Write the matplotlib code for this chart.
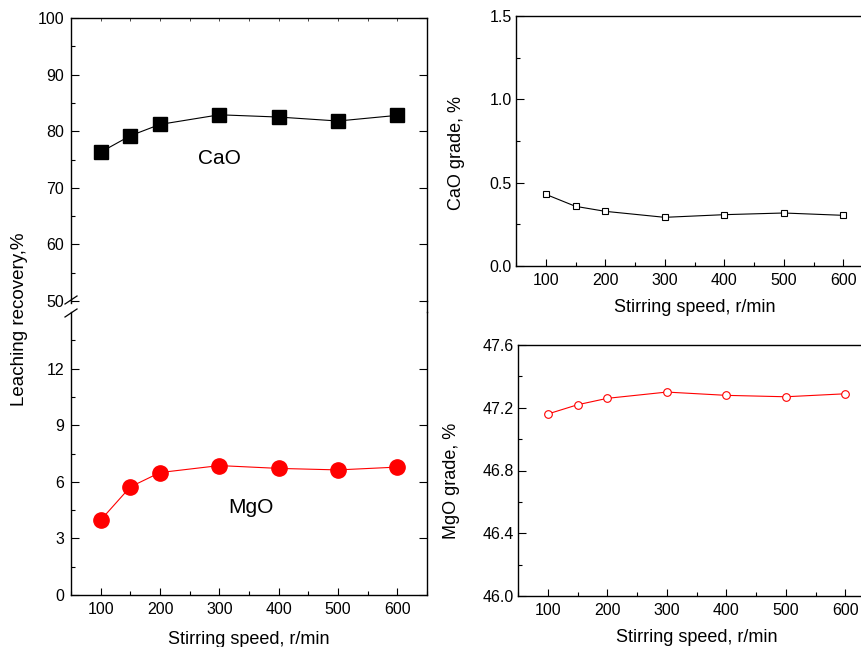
import matplotlib
matplotlib.use("Agg")
import matplotlib.pyplot as plt
from matplotlib.lines import Line2D
from matplotlib.ticker import MultipleLocator, FixedLocator

plt.rcParams['font.family'] = ['Liberation Sans', 'DejaVu Sans']

speed = [100, 150, 200, 300, 400, 500, 600]
cao_recovery = [76.3, 79.2, 81.2, 82.9, 82.5, 81.8, 82.8]
mgo_recovery = [3.97, 5.73, 6.49, 6.86, 6.71, 6.63, 6.78]
cao_grade = [0.43, 0.358, 0.328, 0.292, 0.308, 0.318, 0.304]
mgo_grade = [47.16, 47.219, 47.26, 47.30, 47.279, 47.27, 47.289]
recovery_low_ticks = [0, 3, 6, 9, 12]
recovery_low_minor = [1.5, 4.5, 7.5, 10.5, 13.5]

W, H = 861, 647
fig = plt.figure(figsize=(W / 100, H / 100), dpi=100)


def rect(x0, y0, x1, y1):
    return [x0 / W, 1 - y1 / H, (x1 - x0) / W, (y1 - y0) / H]


TS = 11.5
LS = 13

ax_top = fig.add_axes(rect(71, 18, 427, 301))
ax_bot = fig.add_axes(rect(71, 312, 427, 595))
ax_r1 = fig.add_axes(rect(516, 16, 873, 266))
ax_r2 = fig.add_axes(rect(518, 345, 875, 596))

for ax in (ax_top, ax_bot, ax_r1, ax_r2):
    ax.set_xlim(50, 650)
    for s in ax.spines.values():
        s.set_linewidth(1.0)
    ax.tick_params(which='both', direction='in', labelsize=TS)
    ax.tick_params(axis='y', which='major', length=6, width=0.8, pad=5)
    ax.tick_params(axis='y', which='minor', length=3, width=0.8)
    ax.tick_params(axis='x', which='major', length=5, width=0.8, pad=5)
    ax.tick_params(axis='x', which='minor', length=3, width=0.8)
    ax.xaxis.set_major_locator(MultipleLocator(100))
    ax.xaxis.set_minor_locator(MultipleLocator(50))

# Left: broken axis
ax_top.plot(speed, cao_recovery, color='black', lw=0.8, marker='s', ms=10.5,
            mfc='black', mec='black')
ax_top.set_ylim(50, 100)
ax_top.yaxis.set_major_locator(MultipleLocator(10))
ax_top.yaxis.set_minor_locator(MultipleLocator(5))
ax_top.spines['bottom'].set_visible(False)
ax_top.tick_params(axis='x', which='both', bottom=False, labelbottom=False,
                   top=True, length=2, width=0.5)
ax_top.tick_params(axis='y', which='major', right=True)
ax_top.text(301, 75.1, 'CaO', fontsize=15, ha='center', va='center')

ax_bot.plot(speed, mgo_recovery, color='red', lw=0.8, marker='o', ms=11,
            mfc='red', mec='red')
ax_bot.set_ylim(0, 15)
ax_bot.yaxis.set_major_locator(FixedLocator(recovery_low_ticks))
ax_bot.yaxis.set_minor_locator(FixedLocator(recovery_low_minor))
ax_bot.spines['top'].set_visible(False)
ax_bot.tick_params(axis='y', which='major', right=True)
ax_bot.set_xlabel('Stirring speed, r/min', fontsize=LS, labelpad=10)
ax_bot.text(353, 4.65, 'MgO', fontsize=15, ha='center', va='center')

# continuous right spine across gap, break marks on left spine
fig.add_artist(Line2D([427 / W, 427 / W], [1 - 301 / H, 1 - 312 / H],
                      color='black', lw=1.0))
for (xa, ya, xb, yb) in [(65, 304, 77, 296), (65, 317, 77, 309)]:
    fig.add_artist(Line2D([xa / W, xb / W], [1 - ya / H, 1 - yb / H],
                          color='black', lw=0.9))
fig.add_artist(Line2D([71 / W, 71 / W], [1 - 301 / H, 1 - 303 / H],
                      color='black', lw=1.0))

fig.text(20 / W, 1 - 319 / H, 'Leaching recovery,%', rotation=90,
         fontsize=13.5, ha='center', va='center')

# Right top
ax_r1.plot(speed, cao_grade, color='black', lw=0.8, marker='s', ms=5,
           mfc='white', mec='black', mew=0.8)
ax_r1.set_ylim(0, 1.5)
ax_r1.yaxis.set_major_locator(MultipleLocator(0.5))
ax_r1.yaxis.set_minor_locator(MultipleLocator(0.25))
ax_r1.yaxis.set_major_formatter(plt.FormatStrFormatter('%.1f'))
ax_r1.tick_params(axis='y', which='both', pad=3)
ax_r1.set_xlabel('Stirring speed, r/min', fontsize=LS, labelpad=8)
ax_r1.set_ylabel('CaO grade, %', fontsize=LS)
ax_r1.yaxis.set_label_coords(-0.143, 0.452)

# Right bottom
ax_r2.plot(speed, mgo_grade, color='red', lw=0.8, marker='o', ms=5.5,
           mfc='white', mec='red', mew=0.8)
ax_r2.set_ylim(46.0, 47.6)
ax_r2.yaxis.set_major_locator(MultipleLocator(0.4))
ax_r2.yaxis.set_minor_locator(MultipleLocator(0.2))
ax_r2.yaxis.set_major_formatter(plt.FormatStrFormatter('%.1f'))
ax_r2.tick_params(axis='y', which='both', pad=3)
ax_r2.set_xlabel('Stirring speed, r/min', fontsize=LS, labelpad=8)
ax_r2.set_ylabel('MgO grade, %', fontsize=LS)
ax_r2.yaxis.set_label_coords(-0.162, 0.458)

fig.savefig('out.png', dpi=100)
